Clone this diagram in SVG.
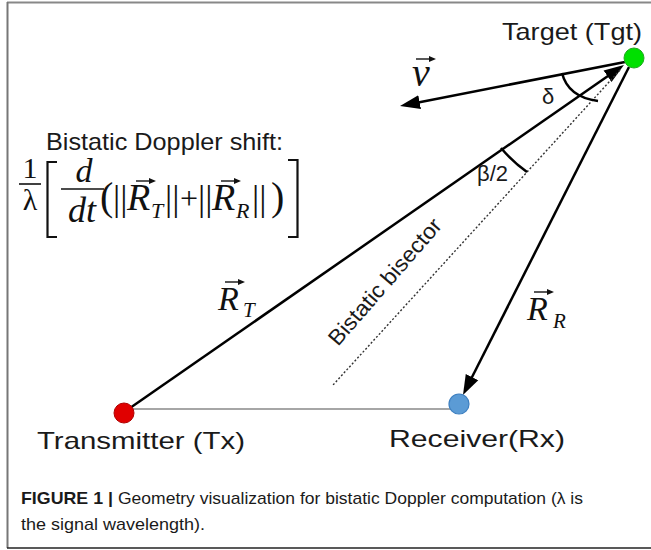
<svg xmlns="http://www.w3.org/2000/svg" width="651" height="550" viewBox="0 0 651 550">
<defs>
<style>
.lbl{font-family:"Liberation Sans",Arial,sans-serif;fill:#1a1a1a}
.ser{font-family:"Liberation Serif","DejaVu Serif",serif;fill:#111}
.it{font-style:italic}
.ln{stroke:#000;stroke-width:2.5;fill:none}
.acc{stroke:#111;stroke-width:1.4}
</style>
<marker id="ah" markerUnits="userSpaceOnUse" markerWidth="22" markerHeight="16" viewBox="0 -8 22 16" refX="8" refY="0" orient="auto">
<path d="M0,-7 L20,0 L0,7 z" fill="#000"/>
</marker>
<marker id="acch" markerUnits="userSpaceOnUse" markerWidth="8" markerHeight="7" viewBox="0 -3.5 8 7" refX="1" refY="0" orient="auto">
<path d="M0,-3 L7,0 L0,3 z" fill="#111"/>
</marker>
</defs>
<rect width="651" height="550" fill="#fff"/>
<g id="frame" fill="none">
<line x1="7" y1="2.5" x2="651" y2="2.5" stroke="#888" stroke-width="2"/>
<line x1="7.5" y1="2" x2="7.5" y2="548" stroke="#777" stroke-width="2"/>
<line x1="7" y1="548" x2="651" y2="548" stroke="#222" stroke-width="1.5"/>
</g>
<g id="connectors">
<line x1="124" y1="409" x2="459" y2="409" stroke="#888" stroke-width="1.6"/>
<line class="ln" x1="130" y1="408" x2="614.1" y2="71.8" marker-end="url(#ah)"/>
<line class="ln" x1="629" y1="67" x2="468.4" y2="384.3" marker-end="url(#ah)"/>
<line class="ln" x1="625" y1="62" x2="411.8" y2="103.7" marker-end="url(#ah)"/>
<line x1="620" y1="70" x2="333" y2="385" stroke="#333" stroke-width="1.4" stroke-dasharray="2,2"/>
<path class="ln" stroke-width="1.8" d="M501,148 A143,143 0 0 0 527,172"/>
<path class="ln" stroke-width="1.8" d="M562,73 Q568,97 598,101"/>
</g>
<g id="target">
<circle cx="634" cy="58" r="10" fill="#00e000" stroke="#22a822" stroke-width="1"/>
<text class="lbl" x="502" y="40" font-size="24" textLength="140" lengthAdjust="spacingAndGlyphs">Target (Tgt)</text>
</g>
<g id="transmitter">
<circle cx="124" cy="413" r="10" fill="#e00000" stroke="#b00000" stroke-width="1"/>
<text class="lbl" x="37" y="449" font-size="24" textLength="208" lengthAdjust="spacingAndGlyphs">Transmitter (Tx)</text>
</g>
<g id="receiver">
<circle cx="459" cy="404" r="10" fill="#5b9bd5" stroke="#3d7fc0" stroke-width="1.2"/>
<text class="lbl" x="389" y="447" font-size="24" textLength="176" lengthAdjust="spacingAndGlyphs">Receiver(Rx)</text>
</g>
<g id="labels">
<text class="ser it" x="412" y="86" font-size="40">v</text>
<line class="acc" x1="416" y1="59" x2="430" y2="59" marker-end="url(#acch)"/>
<text class="lbl" x="542" y="104" font-size="22">δ</text>
<text class="lbl" x="477" y="181" font-size="22">β/2</text>
<text class="lbl" x="0" y="0" font-size="22" textLength="160" lengthAdjust="spacingAndGlyphs" transform="translate(338,347) rotate(-49)">Bistatic bisector</text>
<text class="ser it" x="218" y="310" font-size="34">R</text>
<text class="ser it" x="243" y="317" font-size="21">T</text>
<line class="acc" x1="225" y1="282" x2="239" y2="282" marker-end="url(#acch)"/>
<text class="ser it" x="527" y="320" font-size="34">R</text>
<text class="ser it" x="553" y="328" font-size="21">R</text>
<line class="acc" x1="534" y1="292" x2="548" y2="292" marker-end="url(#acch)"/>
</g>
<g id="formula">
<text class="lbl" x="46" y="150" font-size="24" textLength="237" lengthAdjust="spacingAndGlyphs">Bistatic Doppler shift:</text>
<text class="ser" x="30" y="178" font-size="30" text-anchor="middle">1</text>
<line x1="19" y1="184" x2="41" y2="184" stroke="#111" stroke-width="1.6"/>
<text class="ser" x="30" y="210" font-size="30" text-anchor="middle">λ</text>
<polyline points="57,162 47.5,162 47.5,237 57,237" fill="none" stroke="#111" stroke-width="2.2"/>
<text class="ser it" x="84" y="182" font-size="34" text-anchor="middle">d</text>
<line x1="61" y1="189" x2="104" y2="189" stroke="#111" stroke-width="1.6"/>
<text class="ser it" x="82" y="222" font-size="36" text-anchor="middle">dt</text>
<text class="ser" x="100" y="210" font-size="40">(</text>
<text class="ser" x="113" y="210" font-size="36">||</text>
<text class="ser it" x="127" y="210" font-size="38">R</text>
<line class="acc" x1="136" y1="181" x2="150" y2="181" marker-end="url(#acch)"/>
<text class="ser it" x="151" y="218" font-size="22">T</text>
<text class="ser" x="165" y="210" font-size="36">||</text>
<text class="ser" x="180" y="209" font-size="32">+</text>
<text class="ser" x="198" y="210" font-size="36">||</text>
<text class="ser it" x="212" y="210" font-size="38">R</text>
<line class="acc" x1="221" y1="181" x2="235" y2="181" marker-end="url(#acch)"/>
<text class="ser it" x="236" y="218" font-size="22">R</text>
<text class="ser" x="252" y="210" font-size="36">||</text>
<text class="ser" x="271" y="210" font-size="40">)</text>
<polyline points="288,160 297.5,160 297.5,237 288,237" fill="none" stroke="#111" stroke-width="2.2"/>
</g>
<g id="caption">
<text class="lbl" x="21" y="504" font-size="17" font-weight="bold" textLength="92" lengthAdjust="spacingAndGlyphs">FIGURE 1 |</text>
<text class="lbl" x="118" y="504" font-size="17" textLength="465" lengthAdjust="spacingAndGlyphs">Geometry visualization for bistatic Doppler computation (λ is</text>
<text class="lbl" x="21" y="530" font-size="17" textLength="184" lengthAdjust="spacingAndGlyphs">the signal wavelength).</text>
</g>
</svg>
